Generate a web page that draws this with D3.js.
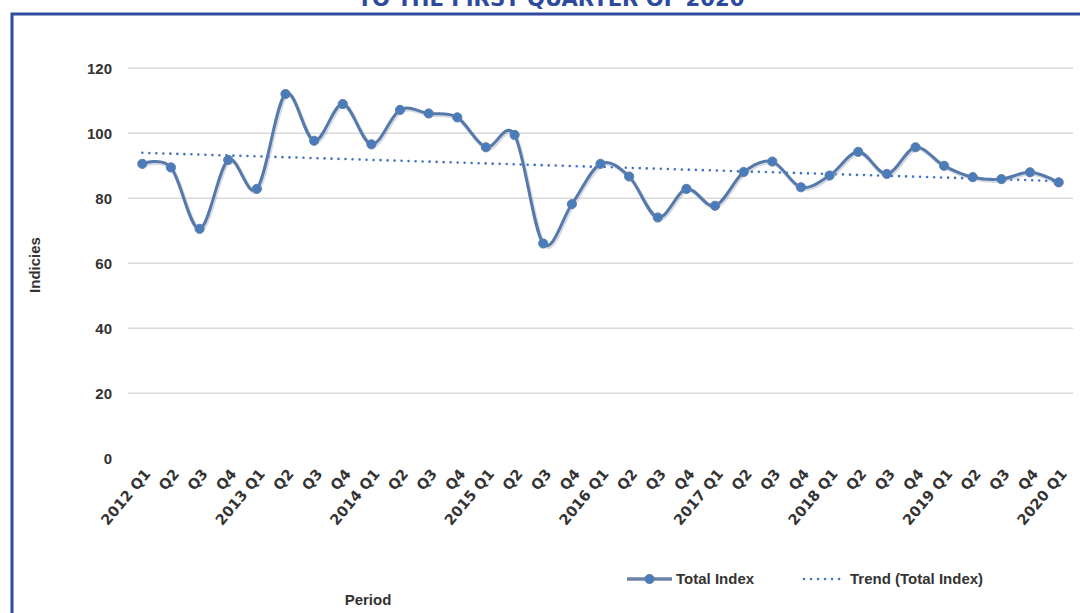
<!DOCTYPE html>
<html>
<head>
<meta charset="utf-8">
<script src="https://cdn.jsdelivr.net/npm/d3@7"></script>
<style>
  body { margin: 0; background: #fff; }
  svg { display: block; font-family: "Liberation Sans", Arial, sans-serif; }
</style>
</head>
<body>
<script>
const w = 1080,
  h = 613;

// quarters 2012 Q1 .. 2020 Q1
const periods = [
  '2012 Q1', 'Q2', 'Q3', 'Q4',
  '2013 Q1', 'Q2', 'Q3', 'Q4',
  '2014 Q1', 'Q2', 'Q3', 'Q4',
  '2015 Q1', 'Q2', 'Q3', 'Q4',
  '2016 Q1', 'Q2', 'Q3', 'Q4',
  '2017 Q1', 'Q2', 'Q3', 'Q4',
  '2018 Q1', 'Q2', 'Q3', 'Q4',
  '2019 Q1', 'Q2', 'Q3', 'Q4',
  '2020 Q1'
];
const totalIndex = [
  90.6, 89.5, 70.6, 91.8,
  82.9, 112.1, 97.7, 109.0,
  96.6, 107.2, 106.1, 104.9,
  95.7, 99.5, 66.1, 78.2,
  90.6, 86.7, 74.1, 82.9,
  77.7, 88.1, 91.3, 83.4,
  87.0, 94.3, 87.5, 95.7,
  90.0, 86.5, 85.9, 88.0,
  84.9
];
// trend line end values (first and last period)
const trendEnds = [94.0, 85.3];
const yTicks = [0, 20, 40, 60, 80, 100, 120];

const blue = '#2E4A9C';
const lineCol = '#5679AC';
const dotCol = '#4472C4';

const margin = { left: 128, right: 1073, top: 68.3, bottom: 458.3 };

const svg = d3.select('body').append('svg').attr('width', w).attr('height', h);

// title, cut at the top edge as in the source
svg.append('text')
  .attr('x', 551)
  .attr('y', 6)
  .attr('text-anchor', 'middle')
  .attr('fill', blue)
  .attr('font-size', 21)
  .attr('font-weight', 'bold')
  .attr('font-family', '"DejaVu Sans", sans-serif')
  .attr('textLength', 387)
  .attr('lengthAdjust', 'spacingAndGlyphs')
  .text('TO THE FIRST QUARTER OF 2020');

// frame
svg.append('path')
  .attr('d', `M12,${h + 5}V14H${w + 5}`)
  .attr('fill', 'none')
  .attr('stroke', blue)
  .attr('stroke-width', 3);

const x = d3.scaleBand().domain(d3.range(periods.length)).range([margin.left, margin.right]);
const cx = i => x(i) + x.bandwidth() / 2;
const y = d3.scaleLinear().domain([0, 120]).range([margin.bottom, margin.top]);

// gridlines
svg.append('g')
  .selectAll('line')
  .data(yTicks.filter(d => d > 0))
  .join('line')
  .attr('x1', margin.left)
  .attr('x2', margin.right)
  .attr('y1', d => y(d))
  .attr('y2', d => y(d))
  .attr('stroke', '#D9D9D9')
  .attr('stroke-width', 1.5);

const yAxis = svg.append('g')
  .attr('transform', `translate(${margin.left},0)`)
  .call(d3.axisLeft(y).tickValues(yTicks).tickSize(0).tickPadding(16));
yAxis.select('.domain').remove();
yAxis.selectAll('text')
  .attr('font-size', 15)
  .attr('font-weight', 'bold')
  .attr('fill', '#333')
  .attr('font-family', '"Liberation Sans", Arial, sans-serif');

const xAxis = svg.append('g')
  .attr('transform', `translate(0,${margin.bottom})`)
  .call(d3.axisBottom(x).tickFormat(i => periods[i]).tickSize(0));
xAxis.select('.domain').remove();
xAxis.selectAll('text')
  .attr('font-size', 14.5)
  .attr('font-weight', 'bold')
  .attr('fill', '#333')
  .attr('font-family', '"DejaVu Sans", sans-serif')
  .attr('text-anchor', 'end')
  .attr('y', 0)
  .attr('dy', null)
  .attr('transform', 'translate(9,16) rotate(-50)');

// trend line
svg.append('line')
  .attr('x1', cx(0))
  .attr('x2', cx(periods.length - 1))
  .attr('y1', y(trendEnds[0]))
  .attr('y2', y(trendEnds[1]))
  .attr('stroke', dotCol)
  .attr('stroke-width', 2.6)
  .attr('stroke-linecap', 'round')
  .attr('stroke-dasharray', '0.01 7');

const line = d3.line()
  .x((d, i) => cx(i))
  .y(d => y(d))
  .curve(d3.curveCardinal);

// soft shadow under the series
svg.append('path')
  .attr('d', line(totalIndex))
  .attr('fill', 'none')
  .attr('stroke', '#9AA3B3')
  .attr('stroke-opacity', 0.4)
  .attr('stroke-width', 4)
  .attr('transform', 'translate(1,1.5)');

svg.append('path')
  .attr('d', line(totalIndex))
  .attr('fill', 'none')
  .attr('stroke', lineCol)
  .attr('stroke-width', 3);

svg.append('g')
  .selectAll('circle')
  .data(totalIndex)
  .join('circle')
  .attr('cx', (d, i) => cx(i))
  .attr('cy', d => y(d))
  .attr('r', 4.6)
  .attr('fill', '#4A7CBB')
  .attr('stroke', '#5F7FA8')
  .attr('stroke-width', 1);

// axis titles
svg.append('text')
  .attr('transform', 'translate(40,265) rotate(-90)')
  .attr('text-anchor', 'middle')
  .attr('font-size', 15)
  .attr('font-weight', 'bold')
  .attr('fill', '#333')
  .text('Indicies');

svg.append('text')
  .attr('x', 368)
  .attr('y', 605)
  .attr('text-anchor', 'middle')
  .attr('font-size', 15)
  .attr('font-weight', 'bold')
  .attr('fill', '#333')
  .text('Period');

// legend
const lg = svg.append('g').attr('transform', 'translate(0,579)');
lg.append('line')
  .attr('x1', 627).attr('x2', 672)
  .attr('stroke', '#6A82A8').attr('stroke-width', 3.5);
lg.append('circle')
  .attr('cx', 649.5).attr('r', 4.6)
  .attr('fill', '#4A7CBB').attr('stroke', '#5F7FA8');
lg.append('text')
  .attr('x', 676).attr('y', 5)
  .attr('font-size', 15).attr('font-weight', 'bold').attr('fill', '#333')
  .text('Total Index');
lg.append('line')
  .attr('x1', 804).attr('x2', 845)
  .attr('stroke', dotCol).attr('stroke-width', 2.6)
  .attr('stroke-linecap', 'round').attr('stroke-dasharray', '0.01 7');
lg.append('text')
  .attr('x', 850).attr('y', 5)
  .attr('font-size', 15).attr('font-weight', 'bold').attr('fill', '#333')
  .text('Trend (Total Index)');
</script>
</body>
</html>
